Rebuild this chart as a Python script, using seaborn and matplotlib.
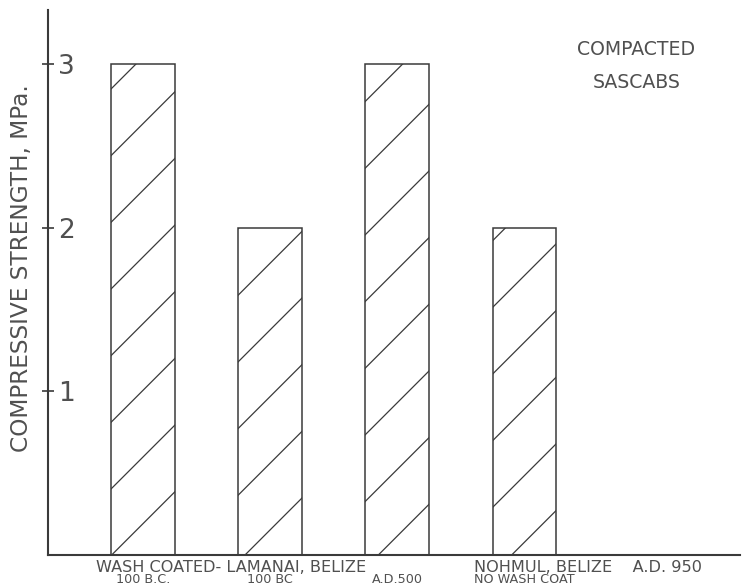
import matplotlib
matplotlib.use("Agg")
import matplotlib.pyplot as plt
import matplotlib.transforms as mtransforms
import seaborn as sns
import pandas as pd

# ── data ─────────────────────────────────────────────────────────────────────
sites     = ["Lamanai 100 B.C.", "Lamanai 100 BC", "Belize A.D.500", "Nohmul A.D.950"]
strength  = [3.0, 2.0, 3.0, 2.0]
tick_text = ["100 B.C.", "100 BC", "A.D.500", "NO WASH COAT"]
group_text = ["WASH COATED- LAMANAI, BELIZE", "NOHMUL, BELIZE    A.D. 950"]
group_pos  = [0.69, 3.5]
y_ticks    = [1, 2, 3]

INK  = "#3a3a3a"
TEXT = "#505050"

# ── style ────────────────────────────────────────────────────────────────────
sns.set_theme(style="white")
plt.rcParams["font.family"] = ["DejaVu Sans"]
plt.rcParams["hatch.linewidth"] = 0.45
plt.rcParams["hatch.color"] = INK

df = pd.DataFrame({"site": sites, "strength": strength})

# dpi 200 keeps the hatch spacing close to the hand drawn one
fig = plt.figure(figsize=(3.735, 2.94), dpi=200)
ax = fig.add_axes([0.064, 0.056, 0.927, 0.927])

sns.barplot(data=df, x="site", y="strength", color="white", width=0.5,
            edgecolor=INK, linewidth=0.55, hatch="/", ax=ax)

ax.set_xlim(-0.75, 4.7)
ax.set_ylim(0, 3.33)

# ── axes look ────────────────────────────────────────────────────────────────
sns.despine(ax=ax)
for side in ["left", "bottom"]:
    ax.spines[side].set_color(INK)
    ax.spines[side].set_linewidth(0.75)

ax.set_yticks(y_ticks)
ax.set_yticklabels([str(v) for v in y_ticks], color=TEXT, fontsize=9.5)
ax.tick_params(axis="y", direction="inout", length=4.3, width=0.6,
               color=INK, pad=-12, left=True)
for lab in ax.get_yticklabels():
    lab.set_horizontalalignment("right")

ax.set_xticks(range(len(tick_text)))
ax.set_xticklabels(tick_text, color=TEXT, fontsize=4.6)
ax.tick_params(axis="x", length=0, pad=6.6)

ax.set_xlabel("")
ax.set_ylabel("COMPRESSIVE STRENGTH, MPa.", color=TEXT, fontsize=8.4)
ax.yaxis.set_label_coords(-0.021, 0.527)

# first line of the category labels
trans = mtransforms.blended_transform_factory(ax.transData, ax.transAxes)
for txt, xp in zip(group_text, group_pos):
    ax.text(xp, -0.022, txt, transform=trans, ha="center", va="center",
            color=TEXT, fontsize=5.8, clip_on=False)

ax.text(0.85, 0.897, "COMPACTED\nSASCABS", transform=ax.transAxes,
        ha="center", va="center", color=TEXT, fontsize=6.8, linespacing=1.9)

fig.savefig("out.png", dpi=200)
